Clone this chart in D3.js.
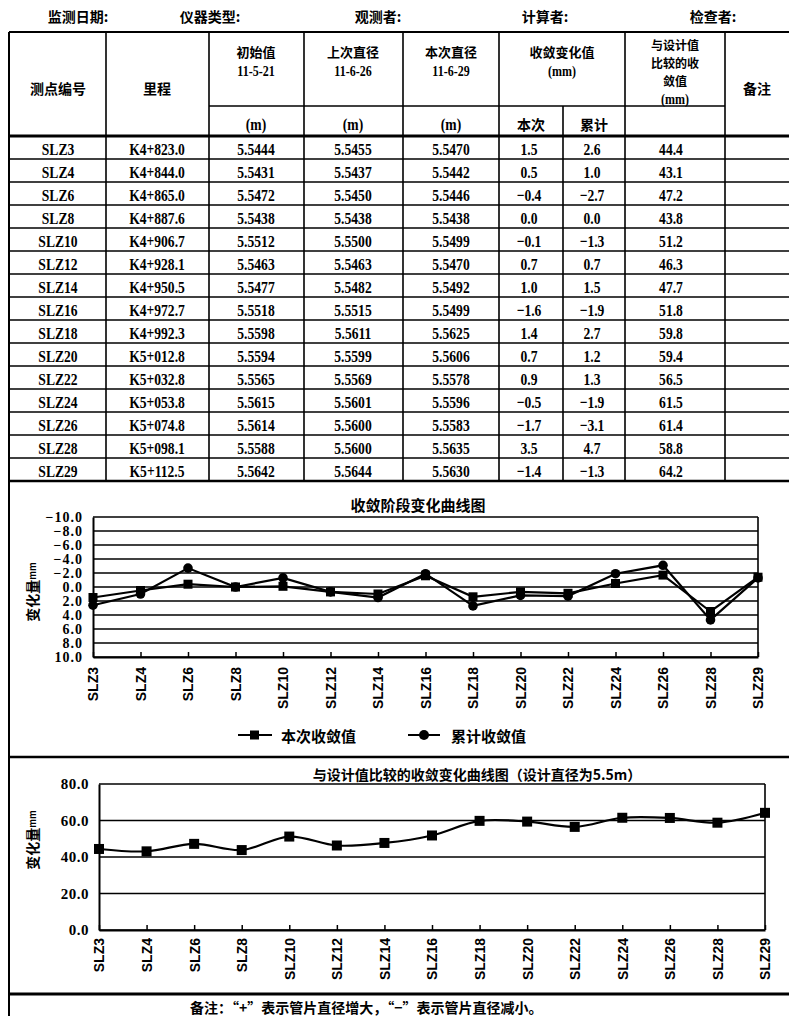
<!DOCTYPE html>
<html><head><meta charset="utf-8">
<script src="https://cdn.jsdelivr.net/npm/d3@7"></script>
<style>body{margin:0;background:#fff} svg{display:block}</style>
</head><body><svg id="c" width="789" height="1016"></svg>
<script>
const points = ["SLZ3","SLZ4","SLZ6","SLZ8","SLZ10","SLZ12","SLZ14","SLZ16","SLZ18","SLZ20","SLZ22","SLZ24","SLZ26","SLZ28","SLZ29"];
const mileage = ["K4+823.0","K4+844.0","K4+865.0","K4+887.6","K4+906.7","K4+928.1","K4+950.5","K4+972.7","K4+992.3","K5+012.8","K5+032.8","K5+053.8","K5+074.8","K5+098.1","K5+112.5"];
const initialDia = [5.5444,5.5431,5.5472,5.5438,5.5512,5.5463,5.5477,5.5518,5.5598,5.5594,5.5565,5.5615,5.5614,5.5588,5.5642];
const lastDia = [5.5455,5.5437,5.5450,5.5438,5.5500,5.5463,5.5482,5.5515,5.5611,5.5599,5.5569,5.5601,5.5600,5.5600,5.5644];
const currentDia = [5.5470,5.5442,5.5446,5.5438,5.5499,5.5470,5.5492,5.5499,5.5625,5.5606,5.5578,5.5596,5.5583,5.5635,5.5630];
const changeNow = [1.5,0.5,-0.4,0.0,-0.1,0.7,1.0,-1.6,1.4,0.7,0.9,-0.5,-1.7,3.5,-1.4];
const changeTotal = [2.6,1.0,-2.7,0.0,-1.3,0.7,1.5,-1.9,2.7,1.2,1.3,-1.9,-3.1,4.7,-1.3];
const vsDesign = [44.4,43.1,47.2,43.8,51.2,46.3,47.7,51.8,59.8,59.4,56.5,61.5,61.4,58.8,64.2];
const ticks1 = [-10,-8,-6,-4,-2,0,2,4,6,8,10];
const ticks2 = [0,20,40,60,80];
const headerLabels = ["监测日期:","仪器类型:","观测者:","计算者:","检查者:"];
const seriesNames = ["本次收敛值","累计收敛值"];
const chart1Title = "收敛阶段变化曲线图";
const chart2Title = "与设计值比较的收敛变化曲线图（设计直径为5.5m）";
const noteText = "备注：“+”表示管片直径增大，“−”表示管片直径减小。";

const svg = d3.select("#c");
const CJK = "'Noto Sans CJK SC','Noto Sans',sans-serif";
const SERIF = "'Liberation Serif','DejaVu Serif',serif";
const SANS = "'Liberation Sans','DejaVu Sans',sans-serif";
const f1 = v => (v < 0 ? "−" : "") + Math.abs(v).toFixed(1);

function txt(x, y, s, o = {}) {
  const t = svg.append("text")
    .attr("transform", `translate(${x},${y}) scale(${o.sx || 1},1)`)
    .attr("text-anchor", o.anchor || "middle")
    .attr("dominant-baseline", "central")
    .style("font-family", o.font || CJK)
    .style("font-size", (o.size || 14) + "px")
    .style("font-weight", o.weight || "bold")
    .attr("fill", "#000")
    .text(s);
  if (o.ls) t.style("letter-spacing", o.ls + "px");
  return t;
}
function line(x1, y1, x2, y2, w = 1.5) {
  svg.append("line").attr("x1", x1).attr("y1", y1).attr("x2", x2).attr("y2", y2)
    .attr("stroke", "#000").attr("stroke-width", w);
}

// ---------- header line ----------
const headX = [78, 210, 378, 545, 713];
headerLabels.forEach((s, i) => txt(headX[i], 16, s, {size: 14}));

// ---------- table ----------
const tTop = 32, subY = 106, hBot = 136, rowH = 23;
const tBot = hBot + rowH * points.length;
line(9, tTop, 789, tTop, 2);
line(499, subY, 725, subY, 1.5);
line(209, subY, 499, subY, 1.5);
line(9, hBot, 789, hBot, 3);
points.forEach((p, i) => line(9, hBot + rowH * (i + 1), 789, hBot + rowH * (i + 1), i === points.length - 1 ? 2.5 : 1.5));
line(9, tTop, 9, 1016, 2);
[106, 209, 304, 403, 499, 625, 725].forEach(x => line(x, tTop, x, tBot, 1.6));
line(563, subY, 563, tBot, 1.6);

// header texts
const NUM = {font: SERIF, size: 17, sx: 0.8, weight: "bold"};
const NUMS = {font: SERIF, size: 15, sx: 0.8, weight: "bold"};
txt(58, 88, "测点编号", {size: 14});
txt(157, 88, "里程", {size: 14});
[["初始值","11-5-21",256],["上次直径","11-6-26",353],["本次直径","11-6-29",451]].forEach(([a,b,x]) => {
  txt(x, 51, a, {size: 13});
  txt(x, 71, b, NUMS);
  txt(x, 124, "(m)", NUM);
});
txt(562, 51, "收敛变化值", {size: 13});
txt(562, 71, "(mm)", NUMS);
txt(531, 124, "本次", {size: 14});
txt(594, 124, "累计", {size: 14});
txt(675, 44, "与设计值", {size: 12});
txt(675, 62, "比较的收", {size: 12});
txt(675, 80, "敛值", {size: 12});
txt(675, 99, "(mm)", NUMS);
txt(757, 88, "备注", {size: 14});

// data rows
points.forEach((p, i) => {
  const y = hBot + rowH * i + rowH / 2 + 1;
  txt(58, y, p, NUM);
  txt(157, y, mileage[i], NUM);
  txt(256, y, initialDia[i].toFixed(4), NUM);
  txt(353, y, lastDia[i].toFixed(4), NUM);
  txt(451, y, currentDia[i].toFixed(4), NUM);
  txt(529, y, f1(changeNow[i]), NUM);
  txt(592, y, f1(changeTotal[i]), NUM);
  txt(671, y, vsDesign[i].toFixed(1), NUM);
});

// ---------- chart 1 ----------
const x1 = d3.scalePoint().domain(points).range([93, 758]);
const y1 = d3.scaleLinear().domain([-10, 10]).range([517, 657]);
txt(418, 504, chart1Title, {size: 15});
const g1 = svg.append("g");
ticks1.forEach(t => g1.append("line").attr("x1", 93).attr("x2", 758).attr("y1", y1(t)).attr("y2", y1(t))
  .attr("stroke", "#000").attr("stroke-width", 1.6));
g1.append("line").attr("x1", 758).attr("x2", 758).attr("y1", 517).attr("y2", 657).attr("stroke", "#000").attr("stroke-width", 1.6);
const ax1 = g1.append("g").attr("transform", "translate(93,0)")
  .call(d3.axisLeft(y1).tickValues(ticks1).tickSize(0).tickPadding(10).tickFormat(f1));
ax1.select(".domain").attr("stroke-width", 2);
ax1.selectAll("text").style("font-family", SERIF).style("font-size", "14px").style("font-weight", "bold").style("letter-spacing", "1px");
const bx1 = g1.append("g").attr("transform", "translate(0,657)")
  .call(d3.axisBottom(x1).tickSize(-5).tickSizeOuter(0));
bx1.select(".domain").attr("stroke-width", 2);
bx1.selectAll("line").attr("stroke-width", 1.5);
bx1.selectAll("text").attr("transform", "rotate(-90)").attr("x", -10).attr("y", 0).attr("dy", "0.35em")
  .attr("text-anchor", "end").style("font-family", SANS).style("font-size", "14px").style("font-weight", "bold");
const yt1 = txt(0, 0, "变化量", {size: 14}).attr("transform", "translate(32,592) rotate(-90)");
yt1.append("tspan").style("font-size", "9px").text("mm");

const lineGen1 = d3.line().x((d, i) => x1(points[i])).y(d => y1(d));
[changeNow, changeTotal].forEach(s => {
  g1.append("path").datum(s).attr("d", lineGen1).attr("fill", "none").attr("stroke", "#000").attr("stroke-width", 2.2);
});
changeNow.forEach((v, i) => g1.append("rect").attr("x", x1(points[i]) - 4.5).attr("y", y1(v) - 4.5).attr("width", 9).attr("height", 9).attr("fill", "#000"));
changeTotal.forEach((v, i) => g1.append("circle").attr("cx", x1(points[i])).attr("cy", y1(v)).attr("r", 4.8).attr("fill", "#000"));

// legend
const legY = 735;
line(238, legY, 272, legY, 2);
svg.append("rect").attr("x", 250).attr("y", legY - 4.5).attr("width", 9).attr("height", 9).attr("fill", "#000");
txt(281, legY, seriesNames[0], {size: 15, anchor: "start"});
line(408, legY, 440, legY, 2);
svg.append("circle").attr("cx", 424).attr("cy", legY).attr("r", 5).attr("fill", "#000");
txt(451, legY, seriesNames[1], {size: 15, anchor: "start"});

line(9, 757, 789, 757, 2.5);

// ---------- chart 2 ----------
const x2 = d3.scalePoint().domain(points).range([99, 765]);
const y2 = d3.scaleLinear().domain([0, 80]).range([930, 784]);
txt(477, 774, chart2Title, {size: 14});
const g2 = svg.append("g");
ticks2.forEach(t => g2.append("line").attr("x1", 99).attr("x2", 765).attr("y1", y2(t)).attr("y2", y2(t))
  .attr("stroke", "#000").attr("stroke-width", 1.5));
g2.append("line").attr("x1", 765).attr("x2", 765).attr("y1", 784).attr("y2", 930).attr("stroke", "#000").attr("stroke-width", 1.6);
const ax2 = g2.append("g").attr("transform", "translate(99,0)")
  .call(d3.axisLeft(y2).tickValues(ticks2).tickSize(0).tickPadding(10).tickFormat(d => d.toFixed(1)));
ax2.select(".domain").attr("stroke-width", 2);
ax2.selectAll("text").style("font-family", SERIF).style("font-size", "15px").style("font-weight", "bold").style("letter-spacing", "0.5px");
const bx2 = g2.append("g").attr("transform", "translate(0,930)")
  .call(d3.axisBottom(x2).tickSize(-5).tickSizeOuter(0));
bx2.select(".domain").attr("stroke-width", 2);
bx2.selectAll("line").attr("stroke-width", 1.5);
bx2.selectAll("text").attr("transform", "rotate(-90)").attr("x", -8).attr("y", 0).attr("dy", "0.35em")
  .attr("text-anchor", "end").style("font-family", SANS).style("font-size", "14px").style("font-weight", "bold");
const yt2 = txt(0, 0, "变化量", {size: 14}).attr("transform", "translate(32,840) rotate(-90)");
yt2.append("tspan").style("font-size", "9px").text("mm");

const lineGen2 = d3.line().x((d, i) => x2(points[i])).y(d => y2(d)).curve(d3.curveCatmullRom.alpha(0.5));
g2.append("path").datum(vsDesign).attr("d", lineGen2).attr("fill", "none").attr("stroke", "#000").attr("stroke-width", 2.2);
vsDesign.forEach((v, i) => g2.append("rect").attr("x", x2(points[i]) - 5).attr("y", y2(v) - 5).attr("width", 10).attr("height", 10).attr("fill", "#000"));

line(9, 994, 789, 994, 3);
txt(190, 1007, noteText, {size: 14, anchor: "start"});
</script></body></html>
